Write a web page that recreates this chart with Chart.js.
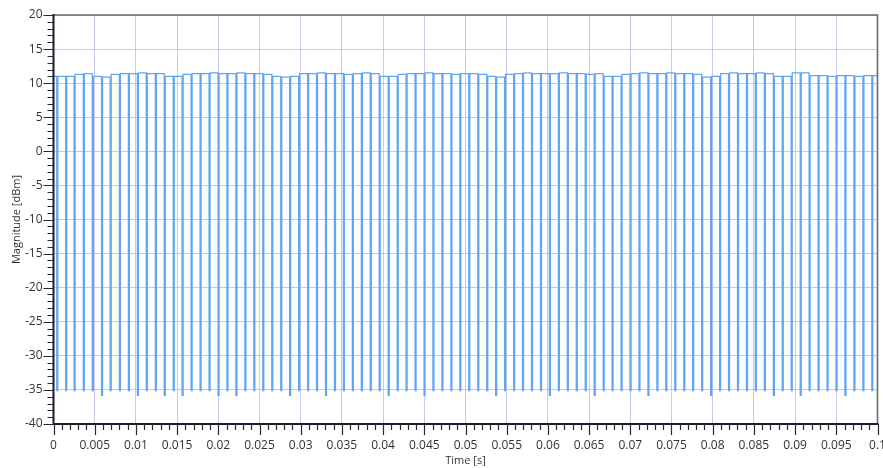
<!DOCTYPE html>
<html>
<head>
<meta charset="utf-8">
<script src="https://cdn.jsdelivr.net/npm/chart.js@4.4.1/dist/chart.umd.min.js"></script>
<style>
  html, body { margin: 0; padding: 0; background: #ffffff; }
  #wrap { width: 883px; height: 468px; }
</style>
</head>
<body>
<div id="wrap"><canvas id="c" width="883" height="468"></canvas></div>
<script>
// Burst train: start time of each short drop (s)
const pulseTimes = [
  0.00040, 0.00148, 0.00250, 0.00362, 0.00471, 0.00583, 0.00688, 0.00800, 0.00909, 0.01018,
  0.01126, 0.01236, 0.01344, 0.01453, 0.01561, 0.01670, 0.01779, 0.01888, 0.01997, 0.02105,
  0.02214, 0.02323, 0.02431, 0.02540, 0.02649, 0.02758, 0.02866, 0.02975, 0.03084, 0.03192,
  0.03301, 0.03410, 0.03518, 0.03627, 0.03736, 0.03844, 0.03953, 0.04062, 0.04171, 0.04279,
  0.04388, 0.04497, 0.04605, 0.04714, 0.04823, 0.04931, 0.05040, 0.05149, 0.05258, 0.05366,
  0.05475, 0.05584, 0.05692, 0.05801, 0.05910, 0.06018, 0.06127, 0.06236, 0.06344, 0.06453,
  0.06562, 0.06671, 0.06779, 0.06888, 0.06997, 0.07105, 0.07214, 0.07323, 0.07431, 0.07540,
  0.07649, 0.07757, 0.07866, 0.07975, 0.08084, 0.08192, 0.08301, 0.08410, 0.08518, 0.08627,
  0.08736, 0.08844, 0.08953, 0.09062, 0.09170, 0.09279, 0.09388, 0.09497, 0.09605, 0.09714,
  0.09823, 0.09931
];
// Duration of each drop (s)
const dropWidth = 0.00012;
// Carrier level (dBm) before the first drop and after each drop
const highLevels = [
  11.0,
  11.0, 11.0, 11.3, 11.4, 11.0, 10.9, 11.3, 11.4, 11.4, 11.5,
  11.4, 11.4, 11.0, 11.0, 11.3, 11.4, 11.4, 11.5, 11.4, 11.4,
  11.5, 11.4, 11.4, 11.3, 11.0, 10.9, 11.0, 11.4, 11.4, 11.5,
  11.4, 11.4, 11.3, 11.4, 11.5, 11.4, 11.0, 11.0, 11.3, 11.4,
  11.4, 11.5, 11.4, 11.4, 11.3, 11.4, 11.4, 11.3, 11.0, 10.9,
  11.3, 11.4, 11.5, 11.4, 11.4, 11.4, 11.5, 11.4, 11.4, 11.3,
  11.4, 11.0, 11.0, 11.3, 11.4, 11.5, 11.4, 11.4, 11.5, 11.4,
  11.4, 11.3, 10.9, 11.0, 11.4, 11.5, 11.4, 11.4, 11.5, 11.4,
  11.0, 11.0, 11.5, 11.5, 11.1, 11.1, 11.0, 11.1, 11.1, 11.0,
  11.1, 11.1
];
// Floor level (dBm) reached in each drop
const lowLevels = [
  -35.1, -35.1, -35.1, -35.1, -35.1, -35.8, -35.1, -35.1, -35.1, -35.8,
  -35.1, -35.1, -35.8, -35.1, -35.8, -35.1, -35.1, -35.1, -35.8, -35.1,
  -35.8, -35.1, -35.1, -35.1, -35.1, -35.1, -35.8, -35.1, -35.1, -35.1,
  -35.8, -35.1, -35.1, -35.1, -35.1, -35.1, -35.1, -35.8, -35.1, -35.1,
  -35.1, -35.8, -35.1, -35.1, -35.1, -35.1, -35.1, -35.1, -35.1, -35.8,
  -35.1, -35.1, -35.1, -35.1, -35.1, -35.8, -35.1, -35.1, -35.1, -35.1,
  -35.8, -35.1, -35.1, -35.1, -35.1, -35.1, -35.8, -35.1, -35.1, -35.1,
  -35.1, -35.1, -35.1, -35.8, -35.1, -35.1, -35.1, -35.1, -35.1, -35.1,
  -35.8, -35.1, -35.1, -35.8, -35.1, -35.1, -35.1, -35.1, -35.8, -35.1,
  -35.1, -35.1
];
// Axis ranges and tick spacing
const xRange = [0, 0.1];
const yRange = [-40, 20];
const xMajorStep = 0.005, xMinorStep = 0.001;
const yMajorStep = 5, yMinorStep = 1;

// Build the stepped waveform from the per-burst values
const trace = [{ x: xRange[0], y: highLevels[0] }];
pulseTimes.forEach((t, k) => {
  trace.push({ x: t, y: highLevels[k] });
  trace.push({ x: t, y: lowLevels[k] });
  trace.push({ x: t + dropWidth, y: lowLevels[k] });
  trace.push({ x: t + dropWidth, y: highLevels[k + 1] });
});
trace.push({ x: xRange[1], y: highLevels[highLevels.length - 1] });

const isMultiple = (v, step) => Math.abs(v / step - Math.round(v / step)) < 1e-6;
const fmt = v => String(Number(v.toFixed(4)));

const gridColor = 'rgba(180,180,222,0.7)';
const fontFamily = "'Open Sans', 'DejaVu Sans', sans-serif";
const tickFont = { family: fontFamily, size: 12 };

// Frame and tick marks of the plot box
const framePlugin = {
  id: 'frame',
  afterDraw(chart) {
    const { ctx, chartArea: a, scales: { x, y } } = chart;
    ctx.save();
    ctx.strokeStyle = '#6a6a6a';
    ctx.lineWidth = 1.6;
    ctx.beginPath();
    ctx.moveTo(a.left, a.top); ctx.lineTo(a.right, a.top); ctx.lineTo(a.right, a.bottom);
    ctx.stroke();
    ctx.strokeStyle = '#1b1b33';
    ctx.lineWidth = 2;
    ctx.beginPath();
    ctx.moveTo(a.left, a.top - 1); ctx.lineTo(a.left, a.bottom); ctx.lineTo(a.right + 1, a.bottom);
    ctx.stroke();
    ctx.lineWidth = 1.2;
    ctx.strokeStyle = '#2a2a2a';
    ctx.beginPath();
    x.ticks.forEach(t => {
      const px = Math.round(x.getPixelForValue(t.value)) + 0.5;
      const len = isMultiple(t.value, xMajorStep) ? 11 : 6;
      ctx.moveTo(px, a.bottom); ctx.lineTo(px, a.bottom + len);
    });
    y.ticks.forEach(t => {
      const py = Math.round(y.getPixelForValue(t.value)) + 0.5;
      const len = isMultiple(t.value, yMajorStep) ? 10 : 6;
      ctx.moveTo(a.left, py); ctx.lineTo(a.left - len, py);
    });
    ctx.stroke();
    ctx.restore();
  }
};

new Chart(document.getElementById('c'), {
  type: 'line',
  data: {
    datasets: [{
      data: trace,
      borderColor: 'rgb(98,165,245)',
      borderWidth: 1.3,
      pointRadius: 0,
      tension: 0,
      fill: false
    }]
  },
  options: {
    responsive: false,
    animation: false,
    parsing: false,
    layout: { padding: { left: 10, right: 5.5, top: 15, bottom: 1 } },
    plugins: { legend: { display: false }, tooltip: { enabled: false } },
    scales: {
      x: {
        type: 'linear',
        min: xRange[0], max: xRange[1],
        border: { display: false },
        grid: {
          drawTicks: false,
          color: c => (c.tick && isMultiple(c.tick.value, xMajorStep)) ? gridColor : 'rgba(0,0,0,0)',
          lineWidth: 1
        },
        ticks: {
          stepSize: xMinorStep,
          autoSkip: false,
          maxRotation: 0, minRotation: 0,
          padding: 14,
          color: '#333333',
          font: tickFont,
          callback: v => isMultiple(v, xMajorStep) ? fmt(v) : ''
        },
        title: {
          display: true, text: 'Time [s]', color: '#333333',
          padding: { top: 0, bottom: 0 },
          font: { family: fontFamily, size: 11 }
        },
        afterFit: s => { s.height = 43; s.paddingLeft = 0; s.paddingRight = 0; }
      },
      y: {
        type: 'linear',
        min: yRange[0], max: yRange[1],
        border: { display: false },
        grid: {
          drawTicks: false,
          color: c => (c.tick && isMultiple(c.tick.value, yMajorStep)) ? gridColor : 'rgba(0,0,0,0)',
          lineWidth: 1
        },
        ticks: {
          stepSize: yMinorStep,
          autoSkip: false,
          padding: 11,
          color: '#333333',
          font: tickFont,
          callback: v => isMultiple(v, yMajorStep) ? fmt(v) : ''
        },
        title: {
          display: true, text: 'Magnitude [dBm]', color: '#333333',
          padding: { top: 0, bottom: 0 },
          font: { family: fontFamily, size: 11 }
        },
        afterFit: s => { s.width = 43.5; s.paddingTop = 0; s.paddingBottom = 0; }
      }
    }
  },
  plugins: [framePlugin]
});
</script>
</body>
</html>
